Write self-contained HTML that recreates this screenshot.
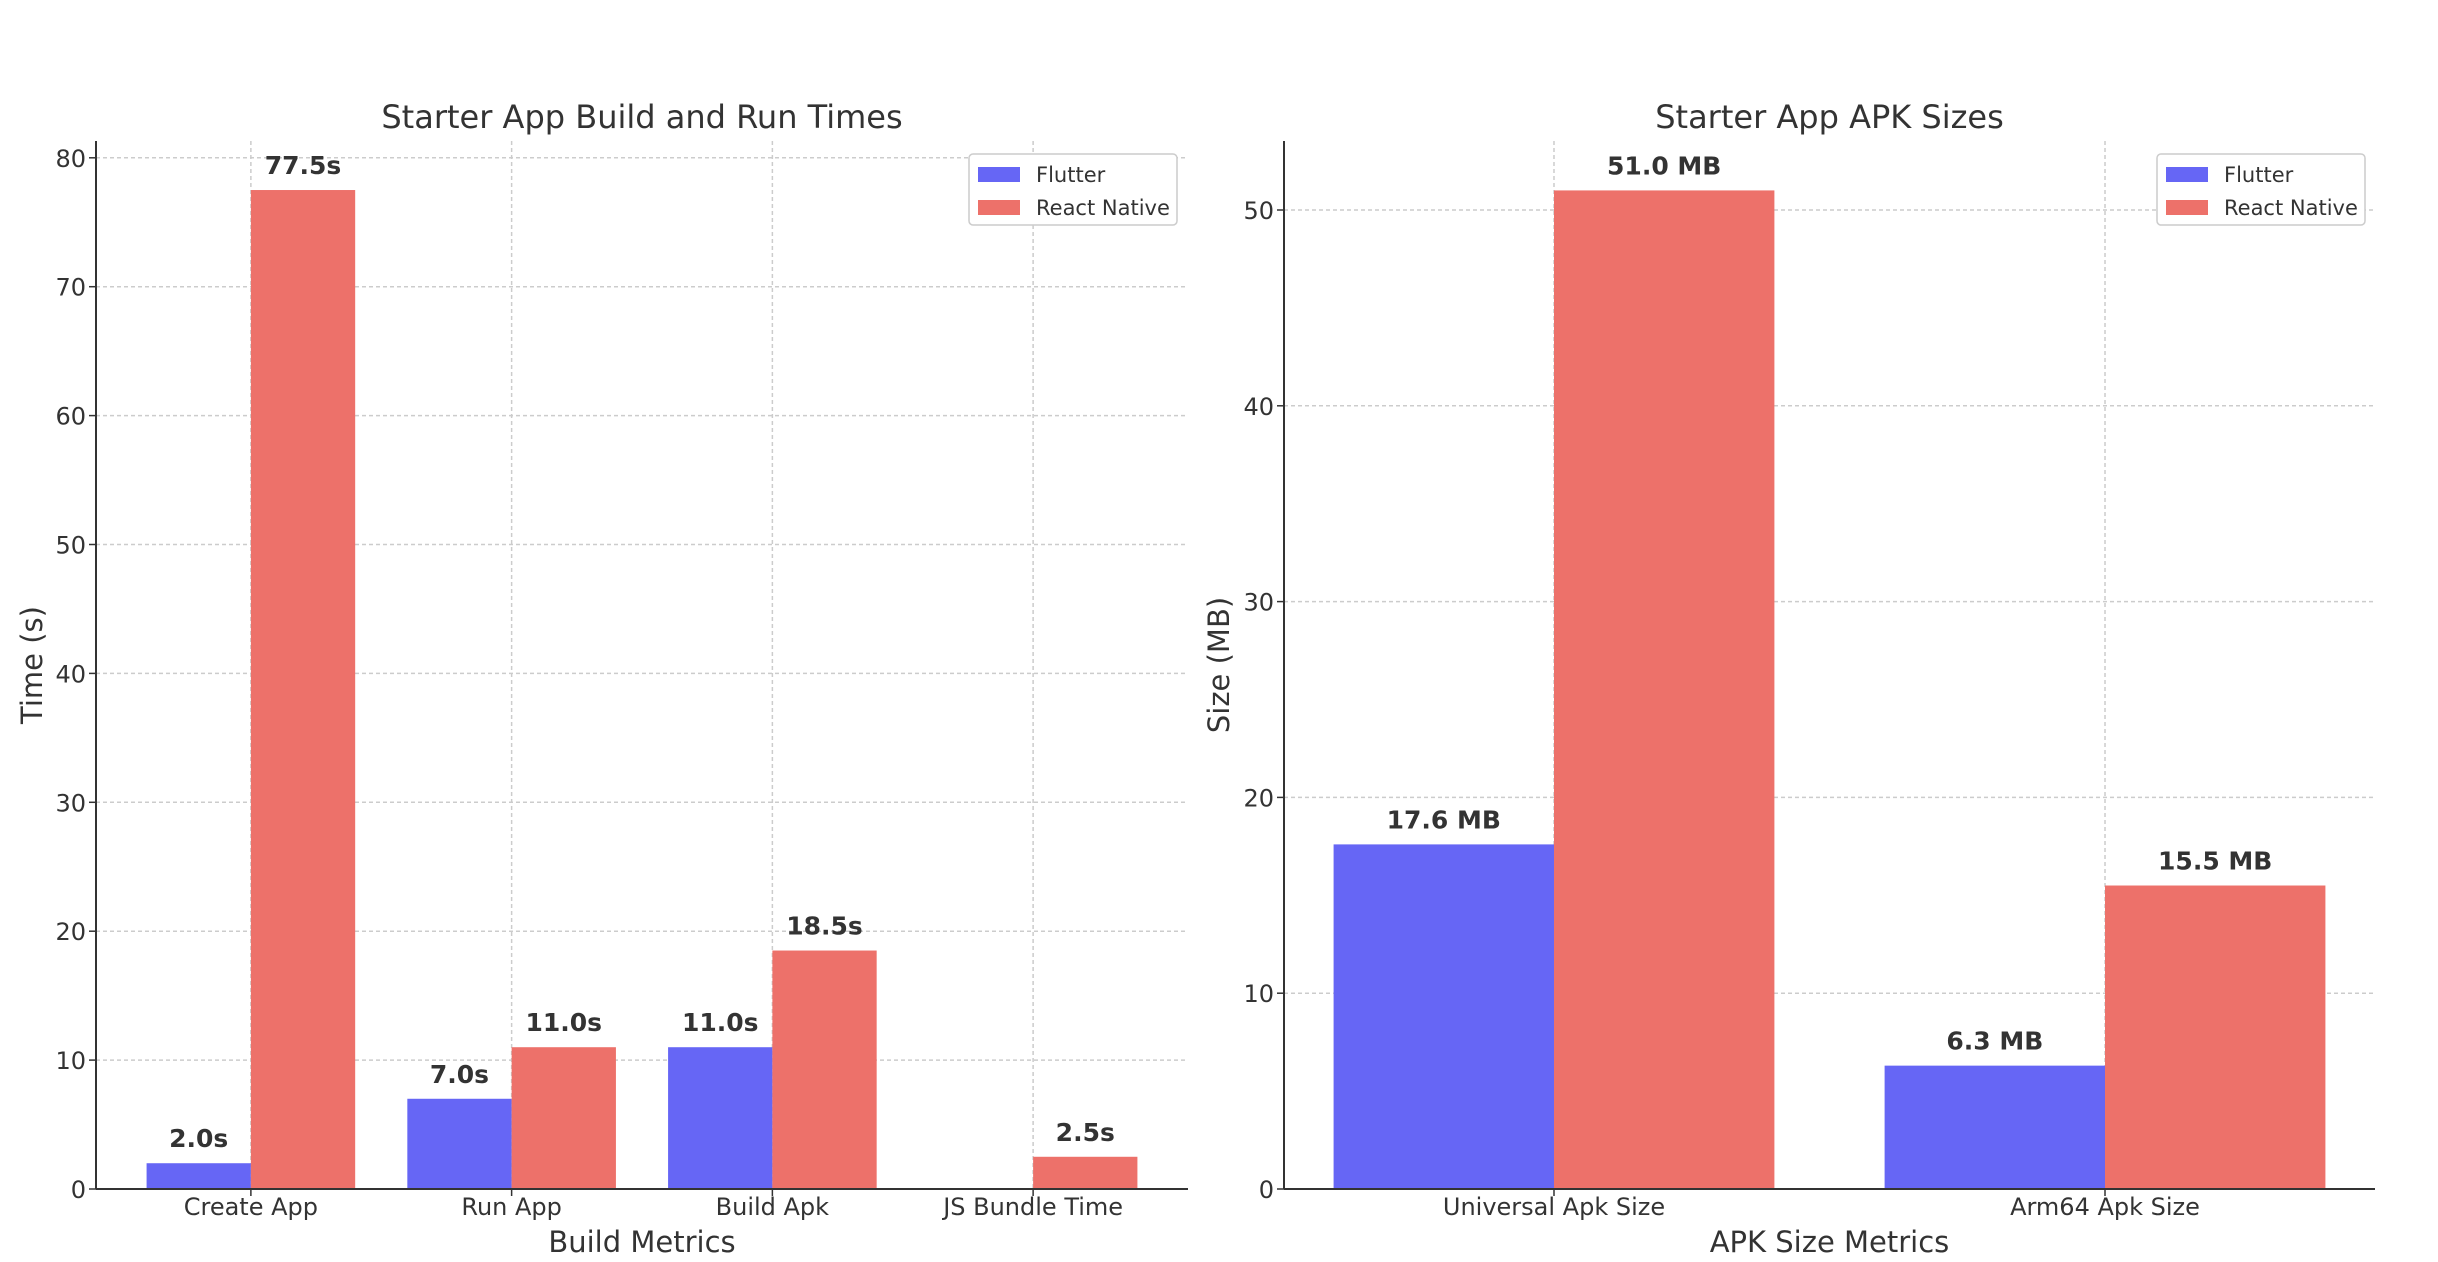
<!DOCTYPE html>
<html><head><meta charset="utf-8"><style>
html,body{margin:0;padding:0;background:#fff;}
svg{display:block;font-family:"DejaVu Sans","Liberation Sans",sans-serif;}
</style></head><body>
<svg id="c" width="2438" height="1262" viewBox="0 0 2438 1262"></svg>
<script>
const timeCategories = ["Create App","Run App","Build Apk","JS Bundle Time"];
const timeFlutter = [2.0, 7.0, 11.0, null];
const timeReact = [77.5, 11.0, 18.5, 2.5];
const timeTicks = [0,10,20,30,40,50,60,70,80];
const sizeCategories = ["Universal Apk Size","Arm64 Apk Size"];
const sizeFlutter = [17.6, 6.3];
const sizeReact = [51.0, 15.5];
const sizeTicks = [0,10,20,30,40,50];

const svg = document.getElementById('c');
const NS = 'http://www.w3.org/2000/svg';
function mk(tag, attrs, parent){
  const e = document.createElementNS(NS, tag);
  for (const k in attrs) e.setAttribute(k, attrs[k]);
  (parent||svg).appendChild(e);
  return e;
}
function txt(x,y,s,size,anchor,weight,fill){
  const t = mk('text',{x:x,y:y,'font-size':size,'text-anchor':anchor||'middle','font-weight':weight||'normal',fill:fill||'#333'});
  t.textContent = s;
  return t;
}

function drawChart(cfg){
  const g = mk('g',{});
  
  
  const L=cfg.left, R=cfg.right, Y0=cfg.y0, top=cfg.top;
  const n = cfg.cats.length;
  const lo = -cfg.pad, hi = n-1+cfg.pad;
  const xs = i => L + (i-lo)/(hi-lo)*(R-L);
  const ys = v => Y0 - v*cfg.pxPerUnit;
  const bw = 0.4*(xs(1)-xs(0));
  cfg.ticks.forEach(t=>{
    const y=ys(t);
    const gl = mk('line',{x1:L,x2:R,y1:y,y2:y,stroke:'#ccc','stroke-width':1.5,'stroke-dasharray':'4,3'},g);
    
    
    mk('line',{x1:L-7,x2:L,y1:y,y2:y,stroke:'#333','stroke-width':1.5},g);
    const tl = txt(L-10,y+9,String(t),24,'end');
    
    
    g.appendChild(tl);
  });
  cfg.cats.forEach((c,i)=>{
    const x=xs(i);
    const vl = mk('line',{x1:x,x2:x,y1:top,y2:Y0,stroke:'#ccc','stroke-width':1.5,'stroke-dasharray':'4,3'},g);
    
    
  });
  cfg.cats.forEach((c,i)=>{
    const x=xs(i);
    [[cfg.a,'#6666f5',-1],[cfg.b,'#ed716a',0]].forEach(([arr,col,off])=>{
      const v=arr[i];
      if(v===null||v===undefined) return;
      const bx = x+off*bw;
      const r = mk('rect',{x:bx,y:ys(v),width:bw,height:Y0-ys(v),fill:col},g);
      
      
      const lb = txt(bx+bw/2, ys(v)-16, v.toFixed(1)+cfg.unit, 25,'middle','bold','#333');
      
      
      g.appendChild(lb);
    });
    mk('line',{x1:x,x2:x,y1:Y0,y2:Y0+7,stroke:'#333','stroke-width':1.5},g);
    const xl = txt(x,Y0+26,c,24);
    
    
    g.appendChild(xl);
  });
  mk('line',{x1:L,x2:L,y1:top,y2:Y0,stroke:'#333','stroke-width':2},g);
  mk('line',{x1:L,x2:R,y1:Y0,y2:Y0,stroke:'#333','stroke-width':2},g);
  const ti = txt((L+R)/2,128,cfg.title,32);
  
  
  g.appendChild(ti);
  const xt = txt((L+R)/2,1252,cfg.xlabel,29);
  
  
  g.appendChild(xt);
  const yt = txt(0,0,cfg.ylabel,29);
  yt.setAttribute('transform','translate('+cfg.ylabelX+','+((top+Y0)/2)+') rotate(-90)');
  
  
  g.appendChild(yt);
  const lx=cfg.legX, ly=154;
  const lg = mk('g',{},g);
  
  
  mk('rect',{x:lx,y:ly,width:208,height:71,rx:4,fill:'#fff',stroke:'#ccc','stroke-width':1.5},lg);
  [['Flutter','#6666f5',0],['React Native','#ed716a',1]].forEach(([name,col,k])=>{
    const e = mk('g',{},lg);
    
    
    mk('rect',{x:lx+9,y:ly+13+k*33,width:42,height:15,fill:col},e);
    const t = txt(lx+67,ly+28+k*33,name,21,'start');
    e.appendChild(t);
  });
}

drawChart({name:'build-times-chart',cats:timeCategories,a:timeFlutter,b:timeReact,ticks:timeTicks,
  left:96,right:1188,y0:1189,top:141,pxPerUnit:12.89,pad:0.594,unit:'s',
  title:'Starter App Build and Run Times',xlabel:'Build Metrics',ylabel:'Time (s)',ylabelX:42,legX:969});
drawChart({name:'apk-sizes-chart',cats:sizeCategories,a:sizeFlutter,b:sizeReact,ticks:sizeTicks,
  left:1284,right:2375,y0:1189,top:141,pxPerUnit:19.58,pad:0.49,unit:' MB',
  title:'Starter App APK Sizes',xlabel:'APK Size Metrics',ylabel:'Size (MB)',ylabelX:1229,legX:2157});
</script>
</body></html>
